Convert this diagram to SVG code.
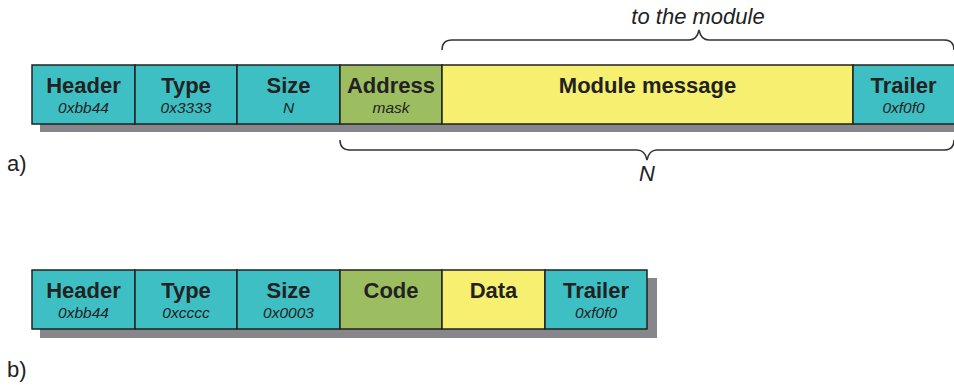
<svg xmlns="http://www.w3.org/2000/svg" width="954" height="385" viewBox="0 0 954 385">
<style>
.teal{fill:#3ebfc4;stroke:#222;stroke-width:1.5}
.green{fill:#9dbd61;stroke:#222;stroke-width:1.5}
.yellow{fill:#f6ef6f;stroke:#222;stroke-width:1.5}
.shadow{fill:#87878b}
.t{font-family:"Liberation Sans",Arial,sans-serif;font-weight:bold;font-size:22px;fill:#222;text-anchor:middle}
.s{font-family:"Liberation Sans",Arial,sans-serif;font-style:italic;font-size:15.5px;fill:#222;text-anchor:middle}
.lab{font-family:"Liberation Sans",Arial,sans-serif;font-size:22px;fill:#222}
.it{font-family:"Liberation Sans",Arial,sans-serif;font-style:italic;font-size:22px;fill:#222;text-anchor:middle}
.brace{fill:none;stroke:#333;stroke-width:1.5}
</style>
<rect class="shadow" x="40" y="73" width="915" height="59"/>
<rect class="shadow" x="40" y="278" width="617" height="60"/>
<g id="a-header"><rect class="teal" x="32" y="65" width="103" height="59"/><text class="t" x="83.5" y="93">Header</text><text class="s" x="83.5" y="113">0xbb44</text></g>
<g id="a-type"><rect class="teal" x="135" y="65" width="102" height="59"/><text class="t" x="186" y="93">Type</text><text class="s" x="186" y="113">0x3333</text></g>
<g id="a-size"><rect class="teal" x="237" y="65" width="103" height="59"/><text class="t" x="288.5" y="93">Size</text><text class="s" x="288.5" y="113">N</text></g>
<g id="a-address"><rect class="green" x="340" y="65" width="102" height="59"/><text class="t" x="391" y="93">Address</text><text class="s" x="391" y="113">mask</text></g>
<g id="a-module"><rect class="yellow" x="442" y="65" width="411" height="59"/><text class="t" x="647.5" y="93">Module message</text></g>
<g id="a-trailer"><rect class="teal" x="853" y="65" width="102" height="59"/><text class="t" x="903.5" y="93">Trailer</text><text class="s" x="903.5" y="113">0xf0f0</text></g>
<g id="braces">
<path class="brace" d="M442,50 Q442,40 452,40 L689,40 Q697,40 699,30 Q701,40 709,40 L944,40 Q954,40 954,50"/>
<path class="brace" d="M340,140 Q340,150 350,150 L637,150 Q645,150 647,160 Q649,150 657,150 L944,150 Q954,150 954,140"/>
</g>
<text class="it" x="698" y="24">to the module</text>
<text class="it" x="647" y="181">N</text>
<text class="lab" x="7" y="171">a)</text>
<g id="b-header"><rect class="teal" x="32" y="270" width="103" height="59"/><text class="t" x="83.5" y="298">Header</text><text class="s" x="83.5" y="318">0xbb44</text></g>
<g id="b-type"><rect class="teal" x="135" y="270" width="102" height="59"/><text class="t" x="186" y="298">Type</text><text class="s" x="186" y="318">0xcccc</text></g>
<g id="b-size"><rect class="teal" x="237" y="270" width="103" height="59"/><text class="t" x="288.5" y="298">Size</text><text class="s" x="288.5" y="318">0x0003</text></g>
<g id="b-code"><rect class="green" x="340" y="270" width="102" height="59"/><text class="t" x="391" y="298">Code</text></g>
<g id="b-data"><rect class="yellow" x="442" y="270" width="103" height="59"/><text class="t" x="493.5" y="298">Data</text></g>
<g id="b-trailer"><rect class="teal" x="545" y="270" width="102" height="59"/><text class="t" x="596" y="298">Trailer</text><text class="s" x="596" y="318">0xf0f0</text></g>
<text class="lab" x="7" y="377">b)</text>
</svg>
